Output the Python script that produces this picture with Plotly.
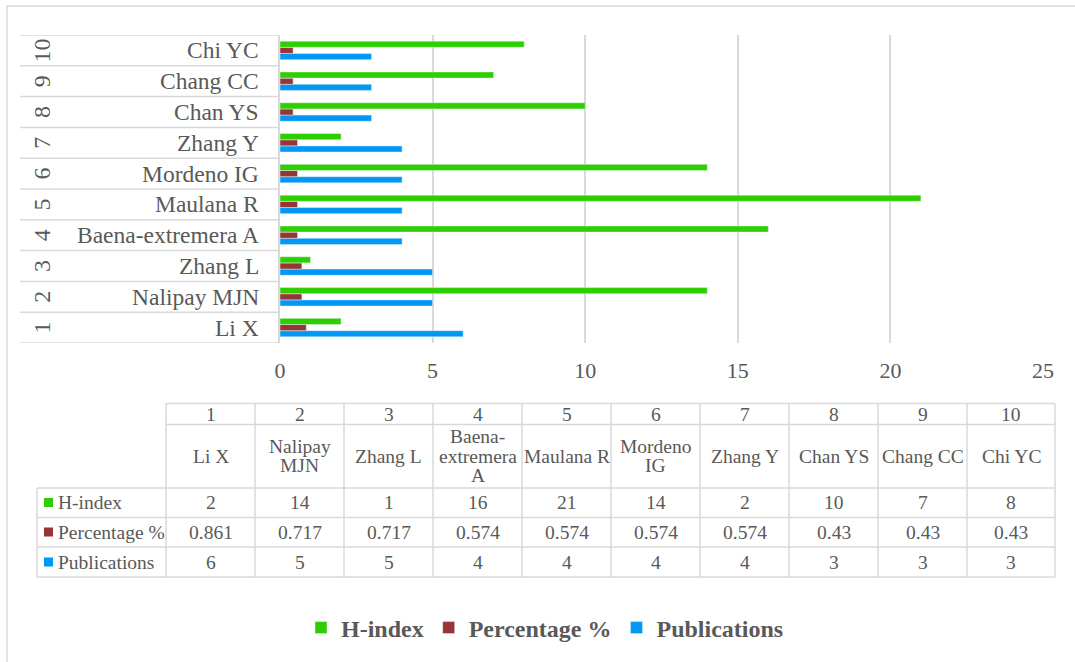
import plotly.graph_objects as go

# Author ranking data
ranks = [1, 2, 3, 4, 5, 6, 7, 8, 9, 10]
authors = ["Li X", "Nalipay MJN", "Zhang L", "Baena-extremera A", "Maulana R",
           "Mordeno IG", "Zhang Y", "Chan YS", "Chang CC", "Chi YC"]
h_index = [2, 14, 1, 16, 21, 14, 2, 10, 7, 8]
percentage = [0.861, 0.717, 0.717, 0.574, 0.574, 0.574, 0.574, 0.43, 0.43, 0.43]
publications = [6, 5, 5, 4, 4, 4, 4, 3, 3, 3]
x_ticks = [0, 5, 10, 15, 20, 25]

W, H = 1075, 662
FONT = "Liberation Serif"
TXT = "#595959"
GRID = "#d9d9d9"
C_H, C_P, C_PUB = "#2ECF00", "#963634", "#0097F5"


def px(x):
    return x / W


def py(y):
    return 1 - y / H


fig = go.Figure()
# Trace order sets the stacking inside each group: Publications at the bottom
fig.add_trace(go.Bar(y=ranks, x=publications, orientation="h", name="Publications",
                     marker_color=C_PUB))
fig.add_trace(go.Bar(y=ranks, x=percentage, orientation="h", name="Percentage %",
                     marker_color=C_P))
fig.add_trace(go.Bar(y=ranks, x=h_index, orientation="h", name="H-index",
                     marker_color=C_H))

shapes = []
annotations = []


def note(x, y, text, xanchor="center", yref="paper", size=19.5, angle=0):
    annotations.append(dict(xref="paper", yref=yref, x=x, y=y, text=text,
                            xanchor=xanchor, yanchor="middle", showarrow=False,
                            textangle=angle,
                            font=dict(family=FONT, size=size, color=TXT)))


# Outer chart border
shapes.append(dict(type="rect", xref="paper", yref="paper", x0=px(7), x1=px(1085),
                   y0=py(6), y1=py(675), line=dict(color=GRID, width=1.5), layer="below"))

# Category axis: row separators, rotated rank numbers and author names
for k in range(len(ranks) + 1):
    shapes.append(dict(type="line", xref="paper", yref="y", x0=px(20), x1=px(280),
                       y0=k + 0.5, y1=k + 0.5, line=dict(color=GRID, width=1.5)))
for r, name in zip(ranks, authors):
    note(px(42), r, str(r), yref="y", size=24, angle=-90)
    note(px(261), r, name, xanchor="right", yref="y", size=23.5)

# Data table under the chart
col_edges = [166 + 89 * i for i in range(11)]
col_edges[-1] = 1055
rows_top = [403.5, 424.5, 488, 517.5, 547, 577]
for y in rows_top[:2]:
    shapes.append(dict(type="line", xref="paper", yref="paper", x0=px(166), x1=px(1055),
                       y0=py(y), y1=py(y), line=dict(color=GRID, width=1.5)))
for y in rows_top[2:]:
    shapes.append(dict(type="line", xref="paper", yref="paper", x0=px(37), x1=px(1055),
                       y0=py(y), y1=py(y), line=dict(color=GRID, width=1.5)))
for x in col_edges:
    shapes.append(dict(type="line", xref="paper", yref="paper", x0=px(x), x1=px(x),
                       y0=py(403.5), y1=py(577), line=dict(color=GRID, width=1.5)))
shapes.append(dict(type="line", xref="paper", yref="paper", x0=px(37), x1=px(37),
                   y0=py(488), y1=py(577), line=dict(color=GRID, width=1.5)))


def wrap(name):
    """Split long names into lines at spaces and after hyphens."""
    if len(name) <= 9:
        return [name]
    parts = name.replace("-", "- ").split(" ")
    return [p for p in parts if p]


series_rows = [("H-index", h_index, C_H, 502.5),
               ("Percentage %", percentage, C_P, 532),
               ("Publications", publications, C_PUB, 562)]
LINE_H = 19.5
for i, (r, name) in enumerate(zip(ranks, authors)):
    cx = px((col_edges[i] + col_edges[i + 1]) / 2)
    note(cx, py(414), str(r))
    lines = wrap(name)
    for j, line in enumerate(lines):
        note(cx, py(456 + (j - (len(lines) - 1) / 2) * LINE_H), line)
    for label, vals, col, yc in series_rows:
        note(cx, py(yc), f"{vals[i]:g}")
for label, vals, col, yc in series_rows:
    shapes.append(dict(type="rect", xref="paper", yref="paper", x0=px(44), x1=px(53),
                       y0=py(yc + 4.5), y1=py(yc - 4.5), line=dict(width=0), fillcolor=col))
    note(px(56), py(yc), label, xanchor="left")

fig.update_layout(
    width=W, height=H, autosize=False,
    margin=dict(l=0, r=0, t=0, b=0, pad=0, autoexpand=False),
    paper_bgcolor="white", plot_bgcolor="white",
    barmode="group", bargap=0.4, bargroupgap=0,
    xaxis=dict(domain=[px(280), px(1043)], range=[0, 25], tickvals=x_ticks,
               showgrid=True, gridcolor=GRID, gridwidth=1.5, zeroline=False,
               showline=False, ticks="", ticklabelstandoff=12, automargin=False,
               tickfont=dict(family=FONT, size=22, color=TXT)),
    yaxis=dict(domain=[py(343), py(35)], range=[0.5, 10.5], showticklabels=False,
               showgrid=False, zeroline=False, showline=True, linecolor=GRID,
               linewidth=1.5, ticks="", automargin=False),
    showlegend=True,
    legend=dict(orientation="h", traceorder="reversed", x=px(545), xanchor="center",
                y=py(628), yanchor="middle", itemwidth=30,
                font=dict(family=FONT, size=24, color=TXT, weight="bold")),
    shapes=shapes, annotations=annotations,
)

fig.write_html("out.html")
